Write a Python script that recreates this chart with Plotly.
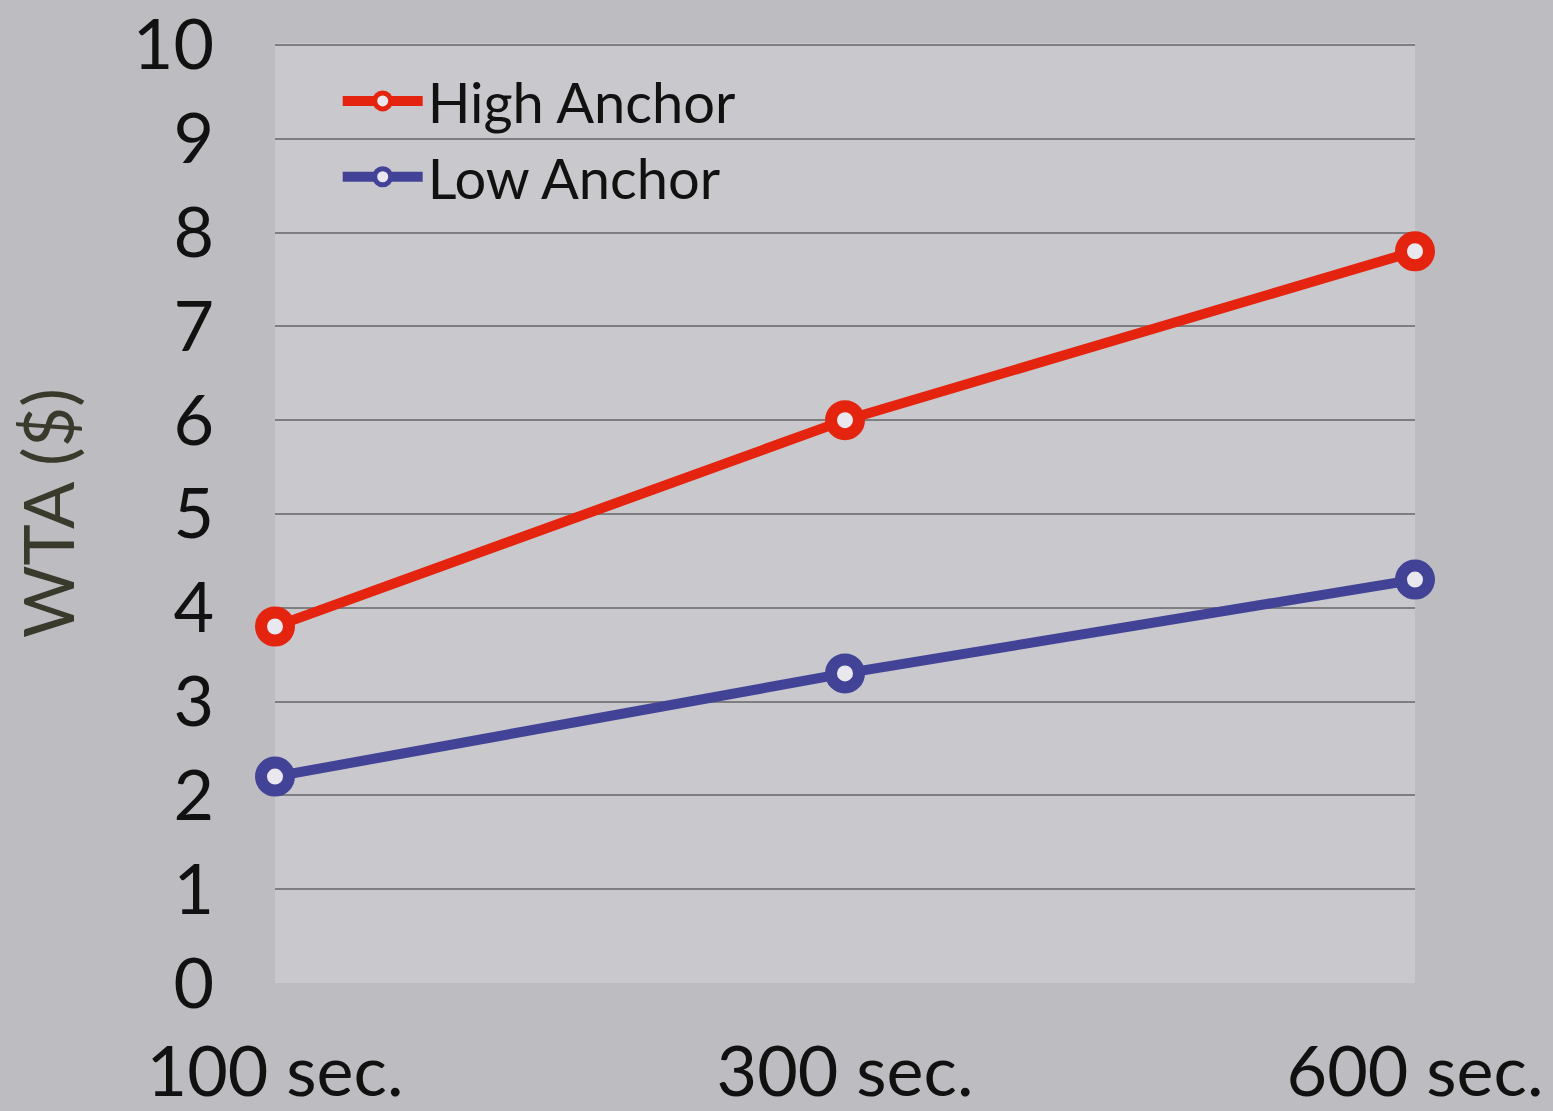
import plotly.graph_objects as go

categories = ["100 sec.", "300 sec.", "600 sec."]
high_anchor = [3.8, 6.0, 7.8]
low_anchor = [2.2, 3.3, 4.3]
y_ticks = list(range(0, 11))

FONT = "Lato"

fig = go.Figure()
for name, vals, col in [("High Anchor", high_anchor, "#e5240f"),
                        ("Low Anchor", low_anchor, "#424396")]:
    fig.add_trace(go.Scatter(
        x=categories, y=vals, name=name, mode="lines+markers",
        line=dict(color=col, width=10),
        marker=dict(size=28, color="#e8e8ee", line=dict(color=col, width=12)),
        cliponaxis=False,
    ))

fig.update_layout(
    width=1553, height=1111,
    margin=dict(l=275, r=138, t=43, b=128),
    paper_bgcolor="#bcbcc1",
    plot_bgcolor="#c9c9cd",
    font=dict(family=FONT, color="#111111"),
    showlegend=True,
    legend=dict(x=0.055, y=0.984, xanchor="left", yanchor="top",
                bgcolor="rgba(0,0,0,0)", font=dict(size=56, family=FONT, color="#111111"),
                itemwidth=80, tracegroupgap=0),
    xaxis=dict(type="category", range=[0, 2], showgrid=False, zeroline=False,
               showline=False, ticks="", tickfont=dict(size=70, family=FONT),
               ticklabelstandoff=42, automargin=False),
    yaxis=dict(range=[0, 10.02], tickvals=y_ticks, showgrid=True, gridcolor="#7e7e80",
               gridwidth=2, zeroline=False, showline=False, ticks="",
               tickfont=dict(size=70, family=FONT), ticklabelstandoff=60,
               automargin=False,
               title=dict(text="WTA ($)", font=dict(size=70, family=FONT, color="#3a3a2c"),
                          standoff=35)),
)

fig.write_html("out.html", config={"displayModeBar": False})
with open("out.html", encoding="utf-8") as f:
    html = f.read()
html = html.replace("<head>", "<head><style>html,body{margin:0;padding:0;}</style>", 1)
with open("out.html", "w", encoding="utf-8") as f:
    f.write(html)
